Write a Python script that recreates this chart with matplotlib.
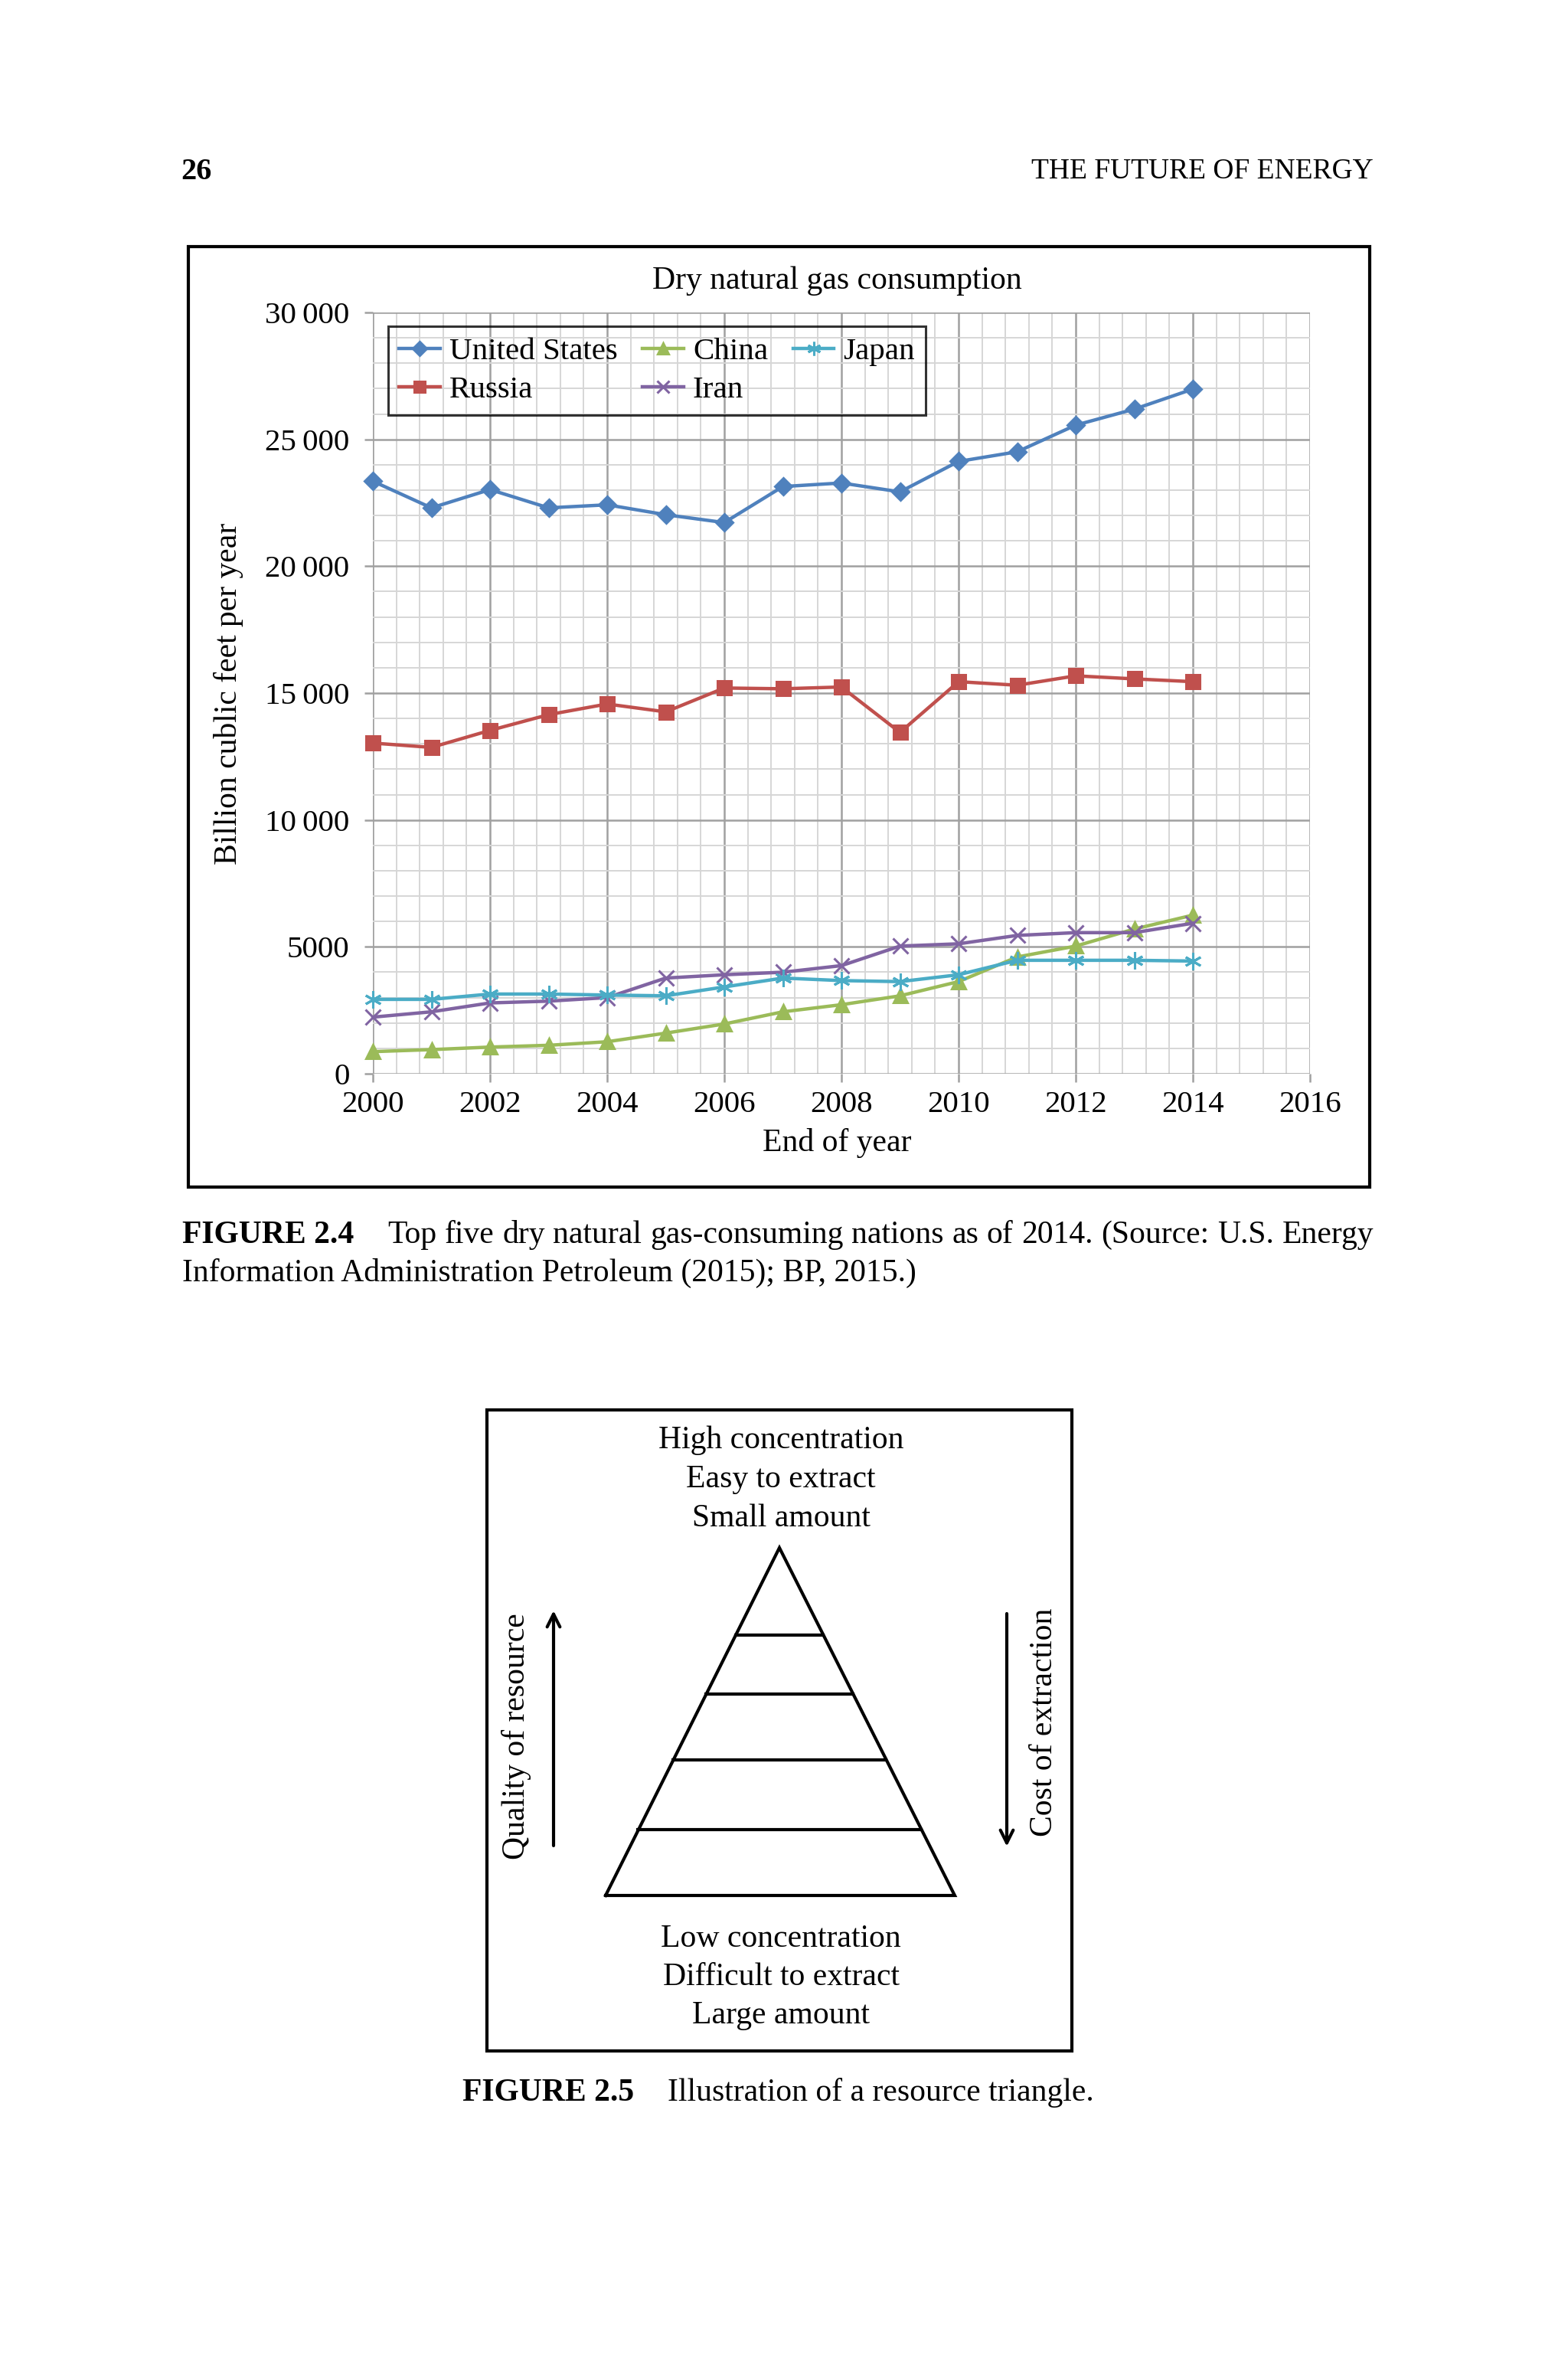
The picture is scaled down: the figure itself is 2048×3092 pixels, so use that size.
import matplotlib
matplotlib.use("Agg")
import matplotlib.pyplot as plt
from matplotlib.patches import Rectangle
from matplotlib.ticker import MultipleLocator, FixedLocator
import numpy as np

plt.rcParams['font.family'] = ['Liberation Serif', 'DejaVu Serif']

# data
years = list(range(2000, 2015))
united_states = [23350, 22300, 23020, 22300, 22420, 22030, 21720, 23140, 23280, 22930,
                 24130, 24510, 25560, 26190, 26980]
russia = [13030, 12860, 13530, 14150, 14570, 14260, 15200, 15170, 15240, 13450,
          15450, 15310, 15680, 15560, 15450]
china = [870, 950, 1050, 1120, 1260, 1600, 1960, 2440, 2720, 3070,
         3630, 4600, 5030, 5700, 6250]
japan = [2930, 2930, 3140, 3140, 3100, 3070, 3420, 3770, 3670, 3630,
         3900, 4470, 4470, 4470, 4440]
iran = [2230, 2440, 2790, 2860, 3000, 3770, 3900, 4000, 4260, 5030,
        5120, 5450, 5560, 5560, 5930]
y_ticks = [0, 5000, 10000, 15000, 20000, 25000, 30000]
y_tick_labels = ['0', '5000', '10\u2009000', '15\u2009000', '20\u2009000', '25\u2009000', '30\u2009000']
x_ticks = [2000, 2002, 2004, 2006, 2008, 2010, 2012, 2014, 2016]

# resource triangle: divider levels as fraction of the height from the apex
tri_levels = [0.25, 0.42, 0.61, 0.81]
top_lines = ['High concentration', 'Easy to extract', 'Small amount']
bottom_lines = ['Low concentration', 'Difficult to extract', 'Large amount']

W, H = 2048, 3092
fig = plt.figure(figsize=(W / 100, H / 100), dpi=100)
page = fig.add_axes([0, 0, 1, 1])
page.set_xlim(0, W)
page.set_ylim(H, 0)
page.axis('off')

FS = 30

# page header
page.text(236, 224, '26', fontsize=FS - 1, fontweight='bold', va='center', ha='left')
page.text(1794, 224, 'THE FUTURE OF ENERGY', fontsize=FS - 3, va='center', ha='right')

# chart frame
page.add_patch(Rectangle((246, 322), 1789 - 246, 1550 - 322, fill=False, lw=3, ec='black'))
page.text(1093, 367, 'Dry natural gas consumption', fontsize=FS, ha='center', va='center')
page.text(299, 906, 'Billion cublic feet per year', fontsize=FS, rotation=90,
          ha='center', va='center')
page.text(1093, 1493, 'End of year', fontsize=FS, ha='center', va='center')

x0, x1, yt, yb = 487, 1711, 408, 1402
ax = fig.add_axes([x0 / W, 1 - yb / H, (x1 - x0) / W, (yb - yt) / H])
ax.set_facecolor('none')
ax.set_xlim(2000, 2016)
ax.set_ylim(0, 30000)
ax.xaxis.set_major_locator(FixedLocator(x_ticks))
ax.xaxis.set_minor_locator(MultipleLocator(0.4))
ax.set_yticks(y_ticks)
ax.set_yticklabels(y_tick_labels)
ax.yaxis.set_minor_locator(MultipleLocator(1000))
ax.grid(which='major', color='#a0a0a0', lw=1.8)
ax.grid(which='minor', color='#d6d6d6', lw=1.4)
ax.set_axisbelow(True)
for s in ax.spines.values():
    s.set_visible(False)
ax.tick_params(which='major', length=8, width=1.8, color='#a0a0a0', labelsize=FS - 0.5)
ax.tick_params(axis='y', pad=14)
ax.tick_params(axis='x', pad=8)
ax.tick_params(which='minor', length=0)

series = [
    ('United States', united_states, '#4F81BD', 'D', 11),
    ('Russia', russia, '#C0504D', 's', 13),
    ('China', china, '#9BBB59', '^', 13),
    ('Iran', iran, '#8064A2', 'x', 14),
    ('Japan', japan, '#4BACC6', (6, 2, 0), 16),
]
for name, vals, col, mk, ms in series:
    ax.plot(years, vals, color=col, lw=3.2, marker=mk, ms=ms, mec=col, mew=2.2,
            label=name, clip_on=False)

leg = ax.legend(ncol=3, loc='upper left', bbox_to_anchor=(507, 426),
                bbox_transform=page.transData, borderaxespad=0, fontsize=FS - 0.5,
                frameon=True, fancybox=False, edgecolor='black', handlelength=1.3,
                handletextpad=0.3, columnspacing=0.8, labelspacing=0.3, borderpad=0.35,
                markerscale=0.8)
leg.get_frame().set_linewidth(2.2)
leg.get_frame().set_facecolor('none')

# caption 2.4 (first line justified to the text block)
page.text(238, 1613, 'FIGURE 2.4', fontsize=FS, fontweight='bold', va='center')
renderer = fig.canvas.get_renderer()
words = 'Top five dry natural gas-consuming nations as of 2014. (Source: U.S. Energy'.split()
wtexts = [page.text(0, 1613, w, fontsize=FS, va='center') for w in words]
widths = [t.get_window_extent(renderer).width for t in wtexts]
gap = (1794 - 506 - sum(widths)) / (len(words) - 1)
xpos = 506
for t, w in zip(wtexts, widths):
    t.set_x(xpos)
    xpos += w + gap
page.text(238, 1662, 'Information Administration Petroleum (2015); BP, 2015.)',
          fontsize=FS, va='center')

# resource triangle figure
page.add_patch(Rectangle((636, 1841), 1400 - 636, 2678 - 1841, fill=False, lw=3, ec='black'))
ax_x, ax_y, base_y, base_l, base_r = 1018, 2021, 2475, 791, 1247
page.plot([base_l, ax_x, base_r, base_l], [base_y, ax_y, base_y, base_y],
          color='black', lw=3, solid_joinstyle='miter')
half = (base_r - base_l) / 2
for f in tri_levels:
    yy = ax_y + f * (base_y - ax_y)
    page.plot([ax_x - f * half, ax_x + f * half], [yy, yy], color='black', lw=3)

for i, t in enumerate(top_lines):
    page.text(1020, 1881 + 51 * i, t, fontsize=FS, ha='center', va='center')
for i, t in enumerate(bottom_lines):
    page.text(1020, 2532 + 50 * i, t, fontsize=FS, ha='center', va='center')

page.annotate('', xy=(723, 2103), xytext=(723, 2410),
              arrowprops=dict(arrowstyle='->', lw=3, color='black', mutation_scale=30,
                              shrinkA=0, shrinkB=0))
page.annotate('', xy=(1315, 2411), xytext=(1315, 2107),
              arrowprops=dict(arrowstyle='->', lw=3, color='black', mutation_scale=30,
                              shrinkA=0, shrinkB=0))
page.text(675, 2267, 'Quality of resource', fontsize=FS, rotation=90, ha='center', va='center')
page.text(1364, 2249, 'Cost of extraction', fontsize=FS, rotation=90, ha='center', va='center')

page.text(604, 2733, 'FIGURE 2.5', fontsize=FS, fontweight='bold', va='center')
page.text(872, 2733, 'Illustration of a resource triangle.', fontsize=FS, va='center')

fig.savefig('out.png', dpi=100, facecolor='white')
